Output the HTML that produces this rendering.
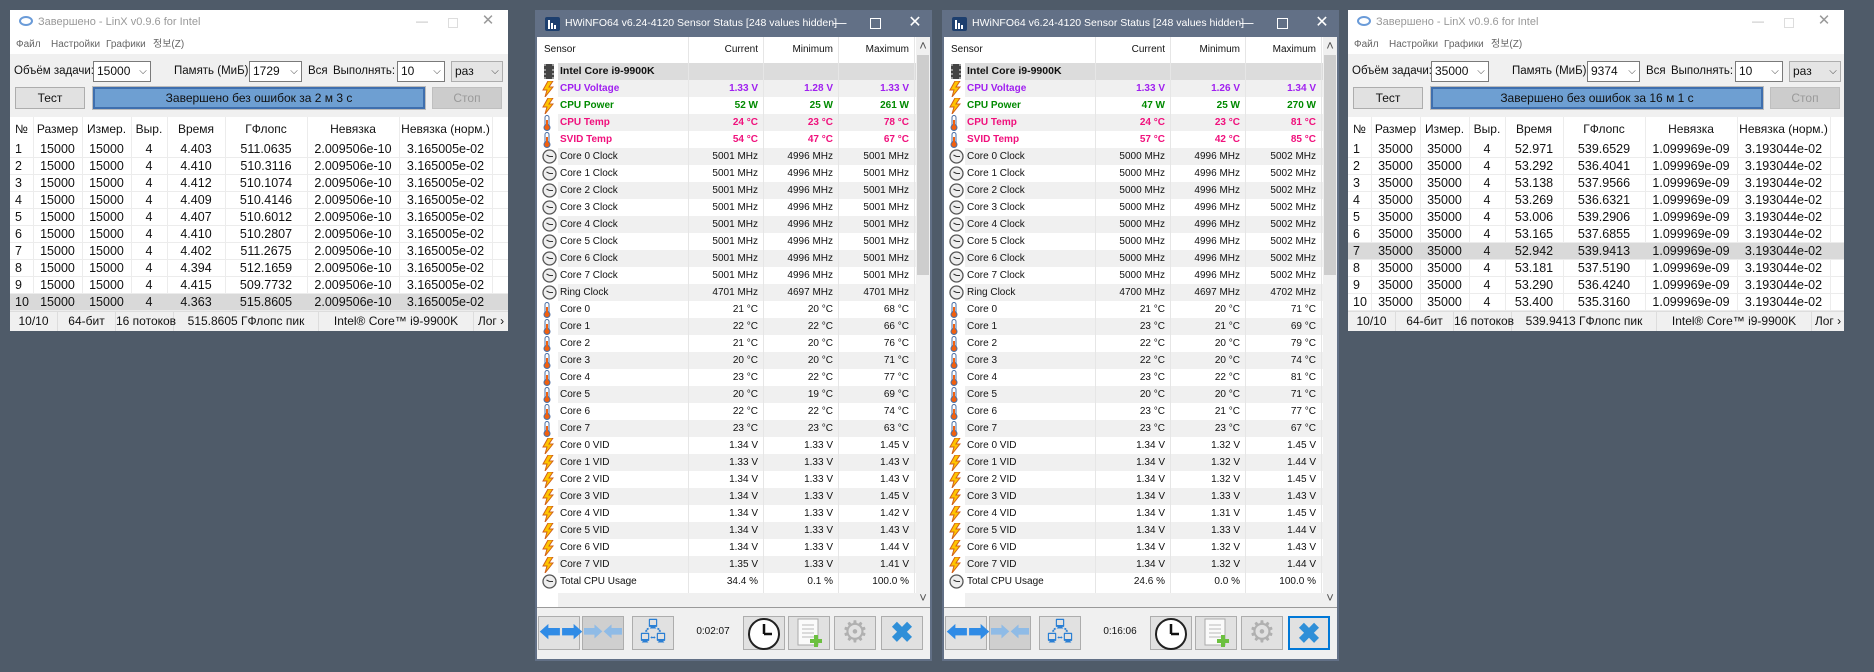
<!DOCTYPE html>
<html><head><meta charset="utf-8"><style>
body{margin:0;width:1874px;height:672px;background:#4f5b69;position:relative;overflow:hidden;font-family:"Liberation Sans","Noto Sans CJK KR",sans-serif}
div{position:absolute;box-sizing:border-box;white-space:nowrap}
.t{line-height:1}
</style></head><body>
<script>
const linxSizes1=['15000','15000','15000','15000','15000','15000','15000','15000','15000','15000'];
const linxTimes1=['4.403','4.410','4.412','4.409','4.407','4.410','4.402','4.394','4.415','4.363'];
const linxGflops1=['511.0635','510.3116','510.1074','510.4146','510.6012','510.2807','511.2675','512.1659','509.7732','515.8605'];
const linxRes1='2.009506e-10',linxNorm1='3.165005e-02';
const linxSizes2=['35000','35000','35000','35000','35000','35000','35000','35000','35000','35000'];
const linxTimes2=['52.971','53.292','53.138','53.269','53.006','53.165','52.942','53.181','53.290','53.400'];
const linxGflops2=['539.6529','536.4041','537.9566','536.6321','539.2906','537.6855','539.9413','537.5190','536.4240','535.3160'];
const linxRes2='1.099969e-09',linxNorm2='3.193044e-02';

const sensorNames=['CPU Voltage','CPU Power','CPU Temp','SVID Temp','Core 0 Clock','Core 1 Clock','Core 2 Clock','Core 3 Clock','Core 4 Clock','Core 5 Clock','Core 6 Clock','Core 7 Clock','Ring Clock','Core 0','Core 1','Core 2','Core 3','Core 4','Core 5','Core 6','Core 7','Core 0 VID','Core 1 VID','Core 2 VID','Core 3 VID','Core 4 VID','Core 5 VID','Core 6 VID','Core 7 VID','Total CPU Usage'];
const sensorIcons=['v','v','t','t','c','c','c','c','c','c','c','c','c','t','t','t','t','t','t','t','t','v','v','v','v','v','v','v','v','c'];
const sensorUnits=[' V',' W',' °C',' °C',' MHz',' MHz',' MHz',' MHz',' MHz',' MHz',' MHz',' MHz',' MHz',' °C',' °C',' °C',' °C',' °C',' °C',' °C',' °C',' V',' V',' V',' V',' V',' V',' V',' V',' %'];
const cur1=['1.33','52','24','54','5001','5001','5001','5001','5001','5001','5001','5001','4701','21','22','21','20','23','20','22','23','1.34','1.33','1.34','1.34','1.34','1.34','1.34','1.35','34.4'];
const min1=['1.28','25','23','47','4996','4996','4996','4996','4996','4996','4996','4996','4697','20','22','20','20','22','19','22','23','1.33','1.33','1.33','1.33','1.33','1.33','1.33','1.33','0.1'];
const max1=['1.33','261','78','67','5001','5001','5001','5001','5001','5001','5001','5001','4701','68','66','76','71','77','69','74','63','1.45','1.43','1.43','1.45','1.42','1.43','1.44','1.41','100.0'];
const cur2=['1.33','47','24','57','5000','5000','5000','5000','5000','5000','5000','5000','4700','21','23','22','22','23','20','23','23','1.34','1.34','1.34','1.34','1.34','1.34','1.34','1.34','24.6'];
const min2=['1.26','25','23','42','4996','4996','4996','4996','4996','4996','4996','4996','4697','20','21','20','20','22','20','21','23','1.32','1.32','1.32','1.33','1.31','1.33','1.32','1.32','0.0'];
const max2=['1.34','270','81','85','5002','5002','5002','5002','5002','5002','5002','5002','4702','71','69','79','74','81','71','77','67','1.45','1.44','1.45','1.43','1.45','1.44','1.43','1.44','100.0'];
const sensorColors=['#a020f0','#008a00','#f0107c','#f0107c'];

function box(p,x,y,w,h,css){const d=document.createElement('div');d.style.cssText=`left:${x}px;top:${y}px;width:${w}px;height:${h}px;`+(css||'');p.appendChild(d);return d;}
function txt(p,x,y,w,h,s,align,css){const d=box(p,x,y,w,h,`line-height:${h}px;text-align:${align||'left'};`+(css||''));d.textContent=s;return d;}

function linx(L,W,sizes,times,gfl,res,norm,hl,vals){
  const win=box(document.body,L,10,W,321,'background:#f0f0f0;');
  
  
  const tb=box(win,0,0,W,44,'background:#fff;');
  
  
  const ic=box(tb,9,6,14,10,'border:2px solid #6a9bd8;border-radius:50%;');
  
  
  const tt=txt(tb,28,4,300,16,'Завершено - LinX v0.9.6 for Intel','left','font-size:11px;color:#999;');
  
  
  const mn=txt(tb,W-96,2,20,18,'—','center','font-size:12px;color:#bbb;');
  
  
  const mx=box(tb,W-60,8,10,10,'border:1px solid #ddd;');
  
  
  const cl=txt(tb,W-28,0,16,22,'✕','center','font-size:15px;color:#999;');
  
  
  const menus=[['Файл',6],['Настройки',41],['Графики',96],['정보(Z)',143]];
  for(const m of menus){
    const e=txt(tb,m[1],27,60,16,m[0],'left','font-size:10px;color:#666;');
    
    
  }
  const labels=[['Объём задачи:',4],['Память (МиБ):',164],['Вся',298],['Выполнять:',323]];
  for(const l of labels){
    const e=txt(win,l[1],51,90,20,l[0],'left','font-size:11.5px;color:#111;');
    
    
  }
  const combos=[[83,58,vals[0]],[239,53,vals[1]],[387,48,'10'],[441,52,'раз']];
  for(const c of combos){
    const e=box(win,c[0],51,c[1],21,'background:#fff;border:1px solid #7a7a7a;'+(c[2]==='раз'?'background:#e5e5e5;border-color:#adadad;':''));
    
    
    const v=txt(e,3,0,c[1]-16,19,c[2],'left','font-size:12px;color:#111;');
    
    
    const a=txt(e,c[1]-15,0,12,19,'⌵','center','font-size:10px;color:#444;');
    
    
  }
  const bt=box(win,5,77,70,22,'background:#e1e1e1;border:1px solid #adadad;');
  
  
  txt(bt,0,0,68,20,'Тест','center','font-size:12px;color:#111;');
  const pr=box(win,83,77,332,22,'background:#6e9fd2;border:2px solid #3f6fae;outline:1px solid #bcbcbc;');
  
  
  txt(pr,0,0,328,18,vals[2],'center','font-size:12px;color:#111;');
  const sb=box(win,422,77,70,22,'background:#ccc;border:1px solid #bfbfbf;');
  
  
  txt(sb,0,0,68,20,'Стоп','center','font-size:12px;color:#9a9a9a;');
  const tbl=box(win,0,107,W,194,'background:#fff;');
  
  
  const cols=[0,23,72,121,157,215,297,389,482];
  const heads=['№','Размер','Измер.','Выр.','Время','ГФлопс','Невязка','Невязка (норм.)'];
  for(let i=0;i<8;i++){
    const h=txt(tbl,cols[i]+(i==0?5:0),0,cols[i+1]-cols[i],24,heads[i],i==0?'left':'center','font-size:12px;color:#111;');
    
    
    const ln=box(tbl,cols[i+1],0,1,194,'background:#ececec;');
    
    
  }
  for(let r=0;r<10;r++){
    const y=24+r*17;
    const row=box(tbl,0,y,W,17,(r==hl?'background:#d9d9d9;':'')+'border-bottom:1px solid #ececec;');
    
    
    const cells=[String(r+1),sizes[r],sizes[r],'4',times[r],gfl[r],res,norm];
    for(let i=0;i<8;i++){
      const c=txt(row,cols[i]+(i==0?5:0),0,cols[i+1]-cols[i],17,cells[i],i==0?'left':'center','font-size:12.5px;color:#111;');
      
      
    }
  }
  const st=box(win,0,301,W,20,'background:#f0f0f0;border-top:1px solid #ddd;');
  
  
  const sc=[0,48,106,164,309,464,W];
  const stx=['10/10','64-бит','16 потоков',vals[3],'Intel® Core™ i9-9900K','Лог ›'];
  for(let i=0;i<6;i++){
    const e=txt(st,sc[i],0,sc[i+1]-sc[i],19,stx[i],'center','font-size:12px;color:#111;'+(i<5?'border-right:1px solid #ddd;':''));
    
    
  }
}

function iconSvg(t){
  if(t=='v')return '<svg width="12" height="16" viewBox="0 0 12 16"><polygon points="6,0 11,0 7,6 11,6 3,16 5,9 1,9" fill="#ffc400" stroke="#d0601a" stroke-width="1"/></svg>';
  if(t=='t')return '<svg width="10" height="16" viewBox="0 0 10 16"><rect x="3" y="0.5" width="4" height="11" rx="2" fill="#fff" stroke="#4a6fa5"/><circle cx="5" cy="12.5" r="3" fill="#f06010" stroke="#4a6fa5"/><rect x="4" y="5" width="2" height="6" fill="#f06010"/></svg>';
  return '<svg width="15" height="15" viewBox="0 0 15 15"><circle cx="7.5" cy="7.5" r="6.5" fill="#eee" stroke="#555" stroke-width="1.3"/><path d="M7.5 7.5 L4.5 6 M7.5 7.5 L11 7.5" stroke="#333" stroke-width="1"/></svg>';
}

function hw(L,cur,mn,mx,time,focus){
  const win=box(document.body,L,10,397,651,'background:#627086;');
  
  
  const ic=box(win,10,7,15,14,'background:#1d3f6e;border-radius:2px;');
  
  
  ic.innerHTML='<svg width="15" height="14"><rect x="3" y="3" width="2" height="9" fill="#fff"/><rect x="6" y="6" width="2" height="6" fill="#fff"/><rect x="9" y="8" width="2" height="4" fill="#fff"/></svg>';
  const tt=txt(win,30,4,255,18,'HWiNFO64 v6.24-4120 Sensor Status [248 values hidden]','left','font-size:10.5px;color:#fff;');
  
  
  const b1=txt(win,292,2,26,22,'—','center','font-size:13px;color:#fff;');
  
  
  const b2=box(win,335,8,11,11,'border:1.5px solid #fff;');
  
  
  const b3=txt(win,370,1,20,24,'✕','center','font-size:16px;color:#fff;');
  
  
  const ct=box(win,2,27,393,570,'background:#fff;');
  
  
  const emp=box(ct,21,556,358,14,'background:#f0f0f0;');
  
  
  const colR=[151,226,301,377];
  const heads=['Current','Minimum','Maximum'];
  const hs=txt(ct,7,1,100,24,'Sensor','left','font-size:10px;color:#111;');
  
  
  for(let i=0;i<3;i++){
    const h=txt(ct,colR[i],1,colR[i+1]-colR[i]-5,24,heads[i],'right','font-size:10px;color:#111;');
    
    
  }
  const ir=box(ct,21,26,358,17,'background:#dcdcdc;');
  
  
  const chip=box(ct,7,27,10,15,'background:#444;border-left:2px dotted #999;border-right:2px dotted #999;');
  
  
  const gt=txt(ir,2,0,150,17,'Intel Core i9-9900K','left','font-size:10.5px;font-weight:bold;color:#111;');
  
  
  for(let r=0;r<sensorNames.length;r++){
    const y=43+r*17;
    const row=box(ct,21,y,358,17,r%2==0?'background:#f0f0f0;':'background:#fff;');
    
    
    const icn=box(ct,5,y+1,16,16,'');
    icn.innerHTML=iconSvg(sensorIcons[r]);
    
    
    const col=r<4?sensorColors[r]:'#111';
    const bold=r<4?'font-weight:bold;':'';
    const nm=txt(row,2,0,130,17,sensorNames[r],'left','font-size:10px;color:'+col+';'+bold);
    
    
    const v=[cur[r],mn[r],mx[r]];
    for(let i=0;i<3;i++){
      const c=txt(row,colR[i]-21,0,colR[i+1]-colR[i]-5,17,v[i]+sensorUnits[r],'right','font-size:10px;color:'+col+';'+bold);
      
      
    }
  }
  for(let i=0;i<4;i++){
    const ln=box(ct,colR[i],0,1,556,'background:#e6e6e6;');
    
    
  }
  const sbar=box(ct,379,0,14,570,'background:#f0f0f0;');
  
  
  const th=box(sbar,1,18,12,220,'background:#cdcdcd;');
  
  
  const up=txt(sbar,0,0,14,17,'˄','center','font-size:13px;color:#555;');
  
  
  const dn=txt(sbar,0,552,14,17,'˅','center','font-size:13px;color:#555;');
  
  
  const tb=box(win,2,597,393,52,'background:#f0f0f0;border-top:1px solid #9a9a9a;');
  
  
  const btns=[[0,'nav',''],[44,'compact','#cfcfcf'],[94,'network',''],[205,'clock',''],[250,'log',''],[296,'settings',''],[343,'close','']];
  const glyph={nav:'<span style="color:#2f8be6;font-size:22px">⬅➡</span>',compact:'<span style="color:#8fbbe6;font-size:20px">➡⬅</span>',network:'<span style="color:#2a7fd4;font-size:24px">🖧</span>',clock:'<svg width="34" height="34"><circle cx="17" cy="17" r="15" fill="#fff" stroke="#222" stroke-width="2"/><path d="M17 17V7M17 17H25" stroke="#111" stroke-width="2.5"/></svg>',log:'<svg width="30" height="32"><rect x="4" y="2" width="20" height="26" fill="#fafafa" stroke="#aaa"/><path d="M8 8H20M8 12H20M8 16H20M8 20H20" stroke="#bbb"/><path d="M22 18v12M16 24h12" stroke="#6cc040" stroke-width="4"/></svg>',settings:'<span style="color:#b0b0b0;font-size:30px">⚙</span>',close:'<span style="color:#2f8fd8;font-size:28px;font-weight:bold">✖</span>'};
  for(const b of btns){
    const e=box(tb,b[0]+1,8,42,34,'background:'+(b[2]||'#e1e1e1')+';border:'+(b[1]=='close'&&focus?'2px solid #0078d7':'1px solid #adadad')+';text-align:center;line-height:32px;');
    e.innerHTML=glyph[b[1]];
    
    
  }
  const tm=txt(tb,150,16,52,16,time,'center','font-size:10px;color:#111;');
  
  
}

linx(10,498,linxSizes1,linxTimes1,linxGflops1,linxRes1,linxNorm1,9,['15000','1729','Завершено без ошибок за 2 м 3 с','515.8605 ГФлопс пик']);
hw(535,cur1,min1,max1,'0:02:07',false);
hw(942,cur2,min2,max2,'0:16:06',true);
linx(1348,496,linxSizes2,linxTimes2,linxGflops2,linxRes2,linxNorm2,6,['35000','9374','Завершено без ошибок за 16 м 1 с','539.9413 ГФлопс пик']);
</script>
</body></html>
